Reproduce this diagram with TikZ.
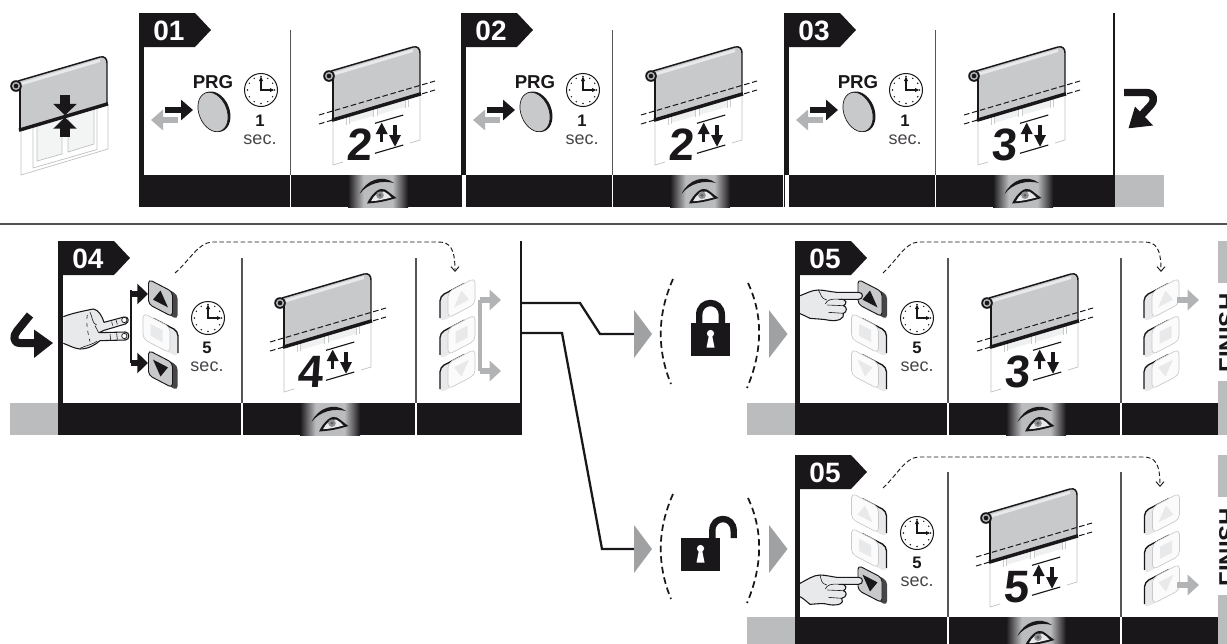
\documentclass[tikz,border=0pt]{standalone}
\usepackage{fontspec}
\setmainfont{Liberation Sans}
\newfontfamily\bigdigit[FakeSlant=.07]{Liberation Sans}
\usetikzlibrary{arrows.meta}
\definecolor{K}{HTML}{1A171B}
\definecolor{G}{HTML}{BBBCBE}
\definecolor{Tri}{HTML}{A0A1A3}
\definecolor{Arr}{HTML}{B2B3B5}
\definecolor{Sheet}{HTML}{C8C9CB}
\definecolor{Lite}{HTML}{E8E9EA}
\definecolor{Div}{HTML}{555555}
\pgfdeclarehorizontalshading{eyeband}{100bp}{color(0bp)=(K); color(25bp)=(K); color(38bp)=(G); color(62bp)=(G); color(75bp)=(K); color(100bp)=(K)}
\tikzset{
  lab/.style={font=\fontsize{21}{21}\selectfont\bfseries,text=white,inner sep=0pt},
  secnum/.style={font=\fontsize{12.5}{12.5}\selectfont\bfseries,text=K,inner sep=0pt},
  sectext/.style={font=\fontsize{13.5}{13.5}\selectfont,text=K!80,inner sep=0pt},
  bignum/.style={font=\fontsize{34}{34}\selectfont\bigdigit\bfseries,text=K,inner sep=0pt},
  fin/.style={font=\fontsize{18}{18}\selectfont\bfseries,text=K,inner sep=0pt,rotate=90},
  prg/.style={font=\fontsize{14}{14}\selectfont\bfseries,text=K,inner sep=0pt},
  wire/.style={draw=K,line width=1.7pt,line join=miter},
  dashcurve/.style={draw=K,line width=.7pt,dash pattern=on 3.4pt off 1.9pt,-{Straight Barb[length=3.5pt,width=6pt,line width=.7pt]}},
  arcdash/.style={draw=K,line width=1.3pt,dash pattern=on 5pt off 3pt},
  blk/.style={draw=K,line width=5.2pt,-{Triangle[length=9pt,width=15pt,fill=K]}},
  gry/.style={draw=Arr,line width=5.2pt,-{Triangle[length=9pt,width=15pt,fill=Arr]}},
  skin/.style={fill=Lite,draw=K,line width=.8pt,line join=round},
  detail/.style={draw=K,line width=.45pt},
}
% ---------- clock
\newcommand{\ClockAt}[2]{%
  \begin{scope}[shift={(#1,#2)}]
    \draw[K,line width=.75pt,fill=white] (0,0) circle (16.5);
    \foreach \a in {0,30,...,330}{\fill[K] (\a:13.5) circle (.8);}
    \draw[K,line width=1.4pt,line cap=round] (0,-11)--(0,0)--(11,0);
    \fill[K] (13,0)--(9,-2)--(9,2)--cycle;
    \fill[K] (0,-13.5)--(-2,-9)--(2,-9)--cycle;
  \end{scope}}
% ---------- rolled blind, common part
\newcommand{\RollBody}{%
  \fill[Sheet] (4,-5)--(84,-29) .. controls (89,-30) and (91,-27) .. (91,-23)--(91,18)--(4,44)--cycle;
  \draw[Lite,line width=2.2pt] (5,-2)--(84,-25.5);
  \draw[K,line width=1.1pt] (2,-5)--(84,-29) .. controls (89,-30) and (91,-27) .. (91,-23)--(91,18);
  \draw[K,line width=.8pt] (4,0)--(4,44);
  \fill[K] (0,0) circle (5.8);
  \fill[Arr] (0,0) circle (4);
  \fill[K] (0,0) circle (2.3);
}
% ---------- blind with count
\newcommand{\Blind}[4]{%
  \begin{scope}[shift={(#1,#2)}]
    \fill[Lite!70] (20,38)--(44,31)--(44,40)--(20,47)--cycle;
    \fill[Lite!70] (48,30)--(76,22)--(76,31)--(48,39)--cycle;
    \foreach \xa/\ya in {17/49,20/48,44/41,48/40,76/31.5,79/30.5}{\draw[Arr!70,line width=.45pt] (\xa,\ya)--(\xa,\ya-12);}
    \draw[Arr!80,line width=.55pt] (14,86)--(4,89)--(4,44);
    \draw[Arr!80,line width=.55pt] (81,67)--(91,64)--(91,18);
    \RollBody
    \draw[K,line width=2.6pt] (3,44.2)--(92,17.8);
    \draw[K,line width=.75pt,dash pattern=on 4.2pt off 2pt] (-10,39)--(106,5);
    \draw[K,line width=.75pt,dash pattern=on 4.2pt off 2pt] (-10,48)--(106,14);
    \node[bignum] (num#4) at (30,69) {#3};
    \draw[K,line width=.85pt] (46,47.3)--(74.3,39);
    \draw[K,line width=.85pt] (46,77.3)--(74.3,69);
    \draw[K,line width=2.6pt] (52.7,55)--(52.7,65.7);
    \fill[K] (52.7,46.7)--(46.7,58)--(58.7,58)--cycle;
    \draw[K,line width=2.6pt] (66,49)--(66,62);
    \fill[K] (66,70.7)--(60,59)--(72,59)--cycle;
  \end{scope}}
% ---------- eye
\newcommand{\EyeAt}[2]{%
  \begin{scope}[shift={(#1,#2)}]
    \fill[K] (-18.5,1) .. controls (-12,-13) and (4,-19) .. (16,-10) .. controls (4,-13) and (-10,-10) .. (-18.5,1)--cycle;
    \fill[K] (-11,10.5) .. controls (-6,0) and (2,-6.5) .. (7,-3.5) .. controls (11,-1) and (14,2) .. (18.5,5) .. controls (10,7.5) and (2,9.5) .. (-5,10)--cycle;
    \fill[Lite] (-7,8.2) .. controls (-4,2) and (1,-2) .. (6,-1.5) .. controls (9,0) and (11,2) .. (13.5,4.5) .. controls (7,6) and (0,8) .. (-7,8.2)--cycle;
    \fill[Tri!90!black] (2,2.2) circle (3.8);
    \fill[K!70] (2,2.2) circle (1.6);
  \end{scope}}
% ---------- keys
\def\GUp{(-7.5,5.5)--(7.5,5.5)--(0,-7.5)--cycle}
\def\GDn{(-7.5,-5.5)--(7.5,-5.5)--(0,7.5)--cycle}
\def\GSq{(-6,-6) rectangle (6,6)}
% #1 cx, #2 cy, #3 side (+1/-1), #4 glyph
\newcommand{\KeyLight}[4]{%
  \begin{scope}[shift={(#1,#2)},yslant={#3*(-.52)}]
    \fill[Lite,rounded corners=3.5pt] ({#3*8-13.5},-13) rectangle ({#3*8+13.5},13);
    \draw[K,line width=1pt,rounded corners=3.5pt] ({#3*(-3)},-13)--({#3*21.5},-13)--({#3*21.5},9);
    \draw[Lite!70!gray,line width=.5pt,fill=white!97!gray,rounded corners=3.5pt] (-13.5,-13) rectangle (13.5,13);
    \fill[Lite] #4;
  \end{scope}}
\newcommand{\KeyDark}[4]{%
  \begin{scope}[shift={(#1,#2)},yslant={#3*(-.52)}]
    \fill[K!80,rounded corners=3pt] ({#3*5-12},-12.5) rectangle ({#3*5+12},12.5);
    \draw[K,line width=.7pt,fill=Sheet,rounded corners=3pt] (-12,-12.5) rectangle (12,12.5);
    \fill[K] #4;
  \end{scope}}
% ---------- bands and frames
\newcommand{\LabelTab}[4]{% x,y,text,id
  \fill[K] (#1,#2)--(#1+56,#2)--(#1+72,#2+17)--(#1+56,#2+34)--(#1,#2+34)--cycle;
  \node[lab] (lab#4) at (#1+30,#2+18) {#3};}
% ---------- top panels
\newcommand{\TopPanel}[4]{% x,label,num,id
  \fill[K] (#1,175) rectangle (#1+322,207);
  \fill[K] (#1,13) rectangle (#1+5,175);
  \LabelTab{#1}{13}{#2}{#4}
  \draw[Div,line width=.8pt] (#1+151.5,30)--(#1+151.5,175);
  \draw[white,line width=.8pt] (#1+151.5,175)--(#1+151.5,207);
  \node[prg] (prg#4) at (#1+74,82) {PRG};
  \draw[gry,draw=Arr] (#1+39,120)--(#1+12,120);
  \draw[blk] (#1+26,110)--(#1+54,110);
  \begin{scope}[shift={(#1+74,112)},rotate=22]
    \fill[K] (1.5,.3) circle [x radius=15,y radius=21];
    \draw[K,line width=.5pt,fill=Sheet] (0,0) circle [x radius=14,y radius=20.5];
  \end{scope}
  \ClockAt{#1+122}{90}
  \node[secnum] (one#4) at (#1+121,120.5) {1};
  \node[sectext] (sec#4) at (#1+121,139.5) {sec.};
  \fill[shading=eyeband] (#1+209,175) rectangle (#1+269,207);
  \EyeAt{#1+239}{193}
  \Blind{#1+190}{76}{#3}{#4}
}
% ---------- bottom-row panel frame
\newcommand{\LowFrame}[5]{% x0,y0,x1,label,id
  \fill[G] (#1-48,#2+162) rectangle (#1,#2+194);
  \fill[K] (#1,#2+162) rectangle (#3,#2+194);
  \fill[K] (#1,#2) rectangle (#1+5,#2+162);
  \LabelTab{#1}{#2}{#4}{#5}
}
\newcommand{\Divider}[2]{% x,y0
  \draw[Div,line width=.8pt] (#1,#2+17)--(#1,#2+162);
  \draw[white,line width=.8pt] (#1,#2+162)--(#1,#2+194);}
\newcommand{\BandEye}[2]{% cx,y0
  \fill[shading=eyeband] (#1-30,#2+162) rectangle (#1+30,#2+194);
  \EyeAt{#1}{#2+180}}
\newcommand{\FinishCol}[2]{% y0,id
  \fill[G] (1218,#1) rectangle (1228,#1+42);
  \fill[G] (1218,#1+140) rectangle (1228,#1+194);
  \node[fin] (finish#2) at (1227.5,#1+92) {FINISH};}
\begin{document}
\begin{tikzpicture}[x=.75pt,y=-.75pt,line cap=butt]
\useasboundingbox (0,0) rectangle (1227,643);
\begin{scope}
\clip (0,0) rectangle (1227,643);
% ===== left scene
\begin{scope}[shift={(16,86)}]
  \draw[Arr!80,line width=.55pt] (5,43)--(5,89)--(92,63)--(92,18);
  \draw[Arr!80,line width=.55pt,fill=white] (17,40)--(17,82)--(81,63.5)--(81,22);
  \draw[Arr!80,line width=.55pt,fill=Lite!50] (21,39)--(21,75)--(46,68)--(46,32)--cycle;
  \draw[Arr!80,line width=.55pt,fill=Lite!50] (52,31)--(52,66)--(78,58)--(78,23)--cycle;
  \RollBody
  \draw[K,line width=2.6pt] (3,44.2)--(92,17.8);
\end{scope}
\draw[K,line width=7pt,-{Triangle[length=8.5pt,width=17pt,fill=K]}] (65,95)--(65,115.3);
\draw[K,line width=7pt,-{Triangle[length=8.5pt,width=17pt,fill=K]}] (65,137)--(65,117.3);
% ===== top row
\TopPanel{139}{01}{2}{a}
\TopPanel{461}{02}{2}{b}
\TopPanel{784}{03}{3}{c}
\fill[white] (461.6,175) rectangle (466,207);
\fill[white] (784.6,175) rectangle (789,207);
\fill[K] (1106,175) rectangle (1115,207);
\fill[K] (1112.5,13) rectangle (1115,175);
\fill[G] (1115,175) rectangle (1164,207);
% return arrow
\draw[K,line width=5.6pt,line join=round] (1124,92.5)--(1146,92.5) .. controls (1154,92.5) and (1156,100) .. (1150,106)--(1138,119);
\fill[K] (1128.5,128.3)--(1135,106.5)--(1153,125.5)--cycle;
% separator
\draw[K!75,line width=.9pt] (0,224)--(1227,224);
% ===== panel 04
\LowFrame{58}{241}{520}{04}{d}
\fill[K] (520,241) rectangle (521.8,435);
\Divider{242}{241}
\Divider{416}{241}
\BandEye{330}{241}
% enter arrow
\draw[K,line width=6pt,line join=round] (30,315)--(17,331) .. controls (13,336) and (13,343) .. (20,343)--(38,343);
\fill[K] (53,343)--(34,329.5)--(34,358)--cycle;
% hand (two fingers)
\begin{scope}[shift={(0,235)},scale=1/3]
  \draw[skin] (190,245) .. controls (215,235) and (250,228) .. (280,222) .. controls (295,225) and (305,240) .. (312,262)
     -- (372,246) .. controls (386,243) and (390,262) .. (376,267) -- (312,286) -- (298,293) -- (376,291) .. controls (390,291) and (390,315) .. (376,315) -- (300,317)
     .. controls (285,330) and (265,342) .. (240,342) .. controls (220,340) and (205,330) .. (190,325);
  \draw[K,line width=.55pt,fill=white] (373,255) circle (8);
  \draw[K,line width=.55pt,fill=white] (373,303) circle (8);
  \draw[detail] (240,340) .. controls (262,330) and (280,328) .. (292,318);
  \draw[detail] (270,232) .. controls (278,245) and (275,265) .. (290,270);
  \draw[detail,dashed] (262,240) .. controls (258,260) and (262,290) .. (270,320);
  \draw[detail] (335,260)--(338,272);
  \draw[detail] (348,255)--(352,268);
  \draw[detail] (330,297)--(332,315);
  \draw[detail] (350,295)--(352,313);
  \draw[detail] (296,293)--(285,272);
\end{scope}
% black bracket
\coordinate (brTop) at (131,294);
\coordinate (brBot) at (131,363);
\draw[K,line width=2.2pt] (131,290)--(brBot);
\draw[K,line width=5.2pt,-{Triangle[length=8pt,width=15pt,fill=K]}] (brTop)--(148,294);
\draw[K,line width=5.2pt,-{Triangle[length=8pt,width=15pt,fill=K]}] (brBot)--(148,363);
% stack left
\KeyDark{160.5}{369}{1}{\GDn}
\KeyLight{156.5}{333}{1}{\GSq}
\KeyDark{160.5}{298}{1}{\GUp}
\ClockAt{208}{318}
\node[secnum] (five04) at (207,347.5) {5};
\node[sectext] (sec04) at (207,366.5) {sec.};
\Blind{280}{303}{4}{d}
% stack right
\KeyLight{461.5}{369}{-1}{\GDn}
\KeyLight{461.5}{334.7}{-1}{\GSq}
\KeyLight{461.5}{298}{-1}{\GUp}
\coordinate (grTop) at (480,300);
\coordinate (grBot) at (480,371);
\draw[Arr,line width=2.8pt] (grTop)--(grBot);
\draw[Arr,line width=4.6pt,-{Triangle[length=8.5pt,width=15pt,fill=Arr]}] (grTop)--(501,300);
\draw[Arr,line width=4.6pt,-{Triangle[length=8.5pt,width=15pt,fill=Arr]}] (grBot)--(501,371);
\coordinate (d1s) at (175,273);
\coordinate (d1e) at (455,272);
\draw[dashcurve] (d1s) .. controls (190,260) and (198,243) .. (212,242)--(438,242) .. controls (450,242) and (455,248) .. (d1e);
% ===== connectors
\coordinate (o1) at (521.5,303);
\coordinate (k1) at (580,303);
\coordinate (k2) at (600,334);
\coordinate (t1) at (634,334);
\coordinate (o2) at (521.5,333);
\coordinate (k3) at (562,333);
\coordinate (k4) at (602,549);
\coordinate (t2) at (634,549);
\draw[wire] (o1)--(k1)--(k2)--(t1);
\draw[wire] (o2)--(k3)--(k4)--(t2);
\fill[Tri] (t1)+(0,-24)--+(18,0)--+(0,24)--cycle;
\fill[Tri] (769,310)--(787.5,334)--(769,358)--cycle;
\fill[Tri] (t2)+(0,-24)--+(18,0)--+(0,24)--cycle;
\fill[Tri] (769,525)--(787.5,549)--(769,573)--cycle;
% brackets
\draw[arcdash] (673,279) .. controls (657,315) and (657,350) .. (671,384);
\draw[arcdash] (748,283) .. controls (763,315) and (763,350) .. (747,388);
\draw[arcdash] (673,494) .. controls (657,530) and (657,565) .. (671,599);
\draw[arcdash] (748,498) .. controls (763,530) and (763,565) .. (747,603);
% closed lock
\draw[K,line width=4.8pt] (699.2,326)--(699.2,315) .. controls (699.2,299) and (721.8,299) .. (721.8,315)--(721.8,326);
\fill[K] (691,323) rectangle (730,356);
\fill[white] (710.5,333.5) circle (3.6);
\fill[white] (709,335)--(712,335)--(714.5,347.5)--(706.5,347.5)--cycle;
% open lock
\draw[K,line width=4.8pt] (712.3,540)--(712.3,531) .. controls (712.3,515) and (733.7,515) .. (733.7,531)--(733.7,538);
\fill[K] (681,538) rectangle (720,571);
\fill[white] (700.5,548.5) circle (3.6);
\fill[white] (699,550)--(702,550)--(704.5,562.5)--(696.5,562.5)--cycle;
% ===== panel 05 upper
\LowFrame{795}{241}{1218}{05}{e}
\Divider{948}{241}
\Divider{1121}{241}
\BandEye{1036}{241}
\KeyLight{865}{369}{1}{\GDn}
\KeyLight{865}{333}{1}{\GSq}
\KeyDark{870}{298}{1}{\GUp}
\begin{scope}[shift={(790,235)},scale=1/3]
  \draw[skin] (30,182) .. controls (50,175) and (65,165) .. (85,165) .. controls (100,165) and (120,170) .. (140,172) -- (206,172) .. controls (221,172) and (221,192) .. (206,193) -- (148,193)
    .. controls (172,190) and (172,208) .. (160,212) .. controls (172,214) and (172,232) .. (160,235) .. controls (165,250) and (145,260) .. (118,256) .. controls (100,252) and (80,252) .. (60,250) .. controls (50,245) and (40,240) .. (30,236);
  \draw[detail] (148,193) .. controls (125,190) and (110,195) .. (106,207);
  \draw[detail] (160,212)--(112,210);
  \draw[detail] (160,235)--(115,232);
  \draw[detail] (85,165) .. controls (95,180) and (92,190) .. (110,195);
\end{scope}
\ClockAt{917}{318}
\node[secnum] (five05a) at (917,347.5) {5};
\node[sectext] (sec05a) at (917,366.5) {sec.};
\Blind{987}{303}{3}{e}
\KeyLight{1165.5}{369}{-1}{\GDn}
\KeyLight{1165.5}{334.7}{-1}{\GSq}
\KeyLight{1165.5}{298}{-1}{\GUp}
\coordinate (g5a) at (1177,300);
\draw[Arr,line width=4.6pt,-{Triangle[length=8.5pt,width=15pt,fill=Arr]}] (g5a)--(1199,300);
\coordinate (d2s) at (883,273);
\coordinate (d2e) at (1161,272);
\draw[dashcurve] (d2s) .. controls (897,260) and (905,243) .. (918,242)--(1144,242) .. controls (1156,242) and (1161,248) .. (d2e);
\FinishCol{241}{a}
% ===== panel 05 lower
\LowFrame{795}{455}{1218}{05}{f}
\Divider{948}{455}
\Divider{1121}{455}
\BandEye{1036}{455}
\KeyLight{865}{513}{1}{\GUp}
\KeyLight{865}{548}{1}{\GSq}
\KeyDark{870}{584}{1}{\GDn}
\begin{scope}[shift={(580,450)},scale=1/3]
  \draw[skin] (660,400) .. controls (680,390) and (700,375) .. (720,375) .. controls (735,375) and (755,380) .. (770,382) -- (836,382) .. controls (851,382) and (851,402) .. (836,403) -- (778,403)
    .. controls (802,400) and (802,418) .. (790,422) .. controls (802,424) and (802,442) .. (785,445) .. controls (795,460) and (775,468) .. (748,464) .. controls (730,458) and (710,462) .. (690,463) .. controls (680,455) and (670,445) .. (660,440);
  \draw[detail] (778,403) .. controls (755,400) and (740,405) .. (736,417);
  \draw[detail] (790,422)--(742,420);
  \draw[detail] (785,445)--(745,442);
  \draw[detail] (720,375) .. controls (725,390) and (722,400) .. (740,405);
\end{scope}
\ClockAt{917}{533}
\node[secnum] (five05b) at (917,562.5) {5};
\node[sectext] (sec05b) at (917,581.5) {sec.};
\Blind{986}{518}{5}{f}
\KeyLight{1166}{584}{-1}{\GDn}
\KeyLight{1166}{549.7}{-1}{\GSq}
\KeyLight{1166}{513}{-1}{\GUp}
\coordinate (g5b) at (1177,585);
\draw[Arr,line width=4.6pt,-{Triangle[length=8.5pt,width=15pt,fill=Arr]}] (g5b)--(1199,585);
\coordinate (d3s) at (883,488);
\coordinate (d3e) at (1160,487);
\draw[dashcurve] (d3s) .. controls (897,475) and (905,458) .. (918,457)--(1143,457) .. controls (1155,457) and (1160,463) .. (d3e);
\FinishCol{455}{b}
\end{scope}
\end{tikzpicture}
\end{document}
